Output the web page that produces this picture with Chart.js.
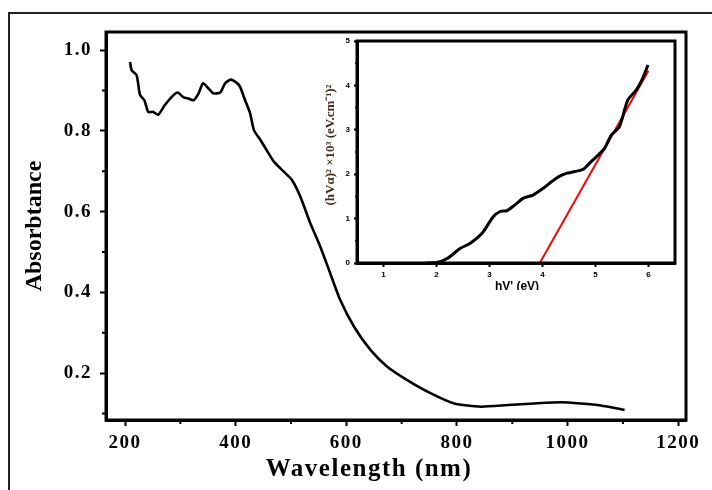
<!DOCTYPE html>
<html>
<head>
<meta charset="utf-8">
<script src="https://cdn.jsdelivr.net/npm/chart.js@4.4.1/dist/chart.umd.min.js"></script>
<style>
  body { margin: 0; background: #fff; }
  #wrap { position: relative; width: 712px; height: 490px; overflow: hidden; }
  #outer { position: absolute; left: 8px; top: 12px; width: 900px; height: 700px;
           border-top: 2px solid #222; border-left: 2px solid #222; }
  #main { position: absolute; left: 0; top: 0; }
  #inset { position: absolute; left: 300px; top: 30px; }
</style>
</head>
<body>
<div id="wrap">
  <div id="outer"></div>
  <canvas id="main" width="712" height="490"></canvas>
  <canvas id="inset" width="390" height="260"></canvas>
</div>
<script>
// main spectrum
const wavelength = [209, 212, 221, 227, 235, 242, 251, 260, 272, 285, 295, 306, 315, 324, 333, 341, 351, 360,
  372, 381, 391, 402, 408, 417, 426, 433, 445, 457, 469, 487, 502, 517, 535, 553, 571, 589, 614, 644, 674,
  710, 753, 795, 843, 892, 940, 988, 1024, 1060, 1103];
const absorbance = [0.971, 0.950, 0.938, 0.889, 0.876, 0.847, 0.847, 0.840, 0.864, 0.885, 0.895, 0.883, 0.880,
  0.876, 0.893, 0.918, 0.905, 0.893, 0.895, 0.918, 0.927, 0.919, 0.909, 0.876, 0.844, 0.802, 0.777, 0.750,
  0.724, 0.699, 0.678, 0.637, 0.571, 0.513, 0.447, 0.381, 0.315, 0.257, 0.216, 0.183, 0.150, 0.125, 0.117,
  0.121, 0.125, 0.128, 0.125, 0.120, 0.109];

// inset (Tauc plot)
const photonEnergy = [1.79, 2.0, 2.2, 2.45, 2.63, 2.86, 3.07, 3.2, 3.33, 3.48, 3.64, 3.82, 4.01, 4.17, 4.3,
  4.45, 4.61, 4.77, 4.89, 5.05, 5.17, 5.3, 5.45, 5.55, 5.61, 5.77, 5.89, 5.99];
const tauc = [0, 0.01, 0.1, 0.33, 0.44, 0.67, 1.04, 1.16, 1.18, 1.31, 1.46, 1.53, 1.68, 1.83, 1.94,
  2.02, 2.06, 2.11, 2.25, 2.43, 2.58, 2.88, 3.07, 3.45, 3.67, 3.9, 4.16, 4.46];
const fitEnergy = [3.95, 6.0];
const fitValue = [0, 4.33];

// ticks
const mainXTicks = [200, 400, 600, 800, 1000, 1200];
const mainXMinor = [300, 500, 700, 900, 1100];
const mainYTicks = [0.2, 0.4, 0.6, 0.8, 1.0];
const mainYMinor = [0.1, 0.3, 0.5, 0.7, 0.9];
const insetXTicks = [1, 2, 3, 4, 5, 6];
const insetYTicks = [0, 1, 2, 3, 4, 5];
const insetYMinor = [0.5, 1.5, 2.5, 3.5, 4.5];
const insetXMinor = [];
for (let i = 6; i <= 64; i++) if (i % 10 !== 0) insetXMinor.push(i / 10);

const toXY = (xs, ys) => xs.map((x, i) => ({ x: x, y: ys[i] }));

const framePlugin = {
  id: 'frame',
  afterDraw(chart, args, opts) {
    const { ctx, chartArea: a } = chart;
    ctx.save();
    ctx.strokeStyle = '#000';
    ctx.lineWidth = opts.width;
    ctx.strokeRect(a.left, a.top, a.right - a.left, a.bottom - a.top);
    ctx.restore();
  }
};

const minorTicks = {
  id: 'minorTicks',
  afterDraw(chart, args, opts) {
    const { ctx, chartArea: a, scales } = chart;
    ctx.save();
    ctx.strokeStyle = '#000';
    ctx.lineWidth = opts.width;
    ctx.beginPath();
    opts.x.forEach(v => {
      const p = scales.x.getPixelForValue(v);
      ctx.moveTo(p, a.bottom);
      ctx.lineTo(p, a.bottom + opts.length);
    });
    opts.y.forEach(v => {
      const p = scales.y.getPixelForValue(v);
      ctx.moveTo(a.left, p);
      ctx.lineTo(a.left - opts.length, p);
    });
    ctx.stroke();
    ctx.restore();
  }
};

const axisTitles = {
  id: 'axisTitles',
  beforeDraw(chart, args, opts) {
    if (opts.spacing) chart.ctx.letterSpacing = opts.spacing;
  },
  afterDraw(chart, args, opts) {
    const ctx = chart.ctx;
    opts.items.forEach(t => {
      ctx.save();
      ctx.font = t.font;
      ctx.fillStyle = t.color || '#000';
      ctx.letterSpacing = t.spacing || '0px';
      ctx.textAlign = 'center';
      ctx.textBaseline = 'middle';
      ctx.translate(t.x, t.y);
      if (t.rotate) ctx.rotate(-Math.PI / 2);
      ctx.fillText(t.text, 0, 0);
      ctx.restore();
    });
  }
};

function axisOpts(min, max, ticks, font, tickLen, pad, fmt, fixedSize, isX) {
  return {
    type: 'linear',
    min: min,
    max: max,
    afterBuildTicks: s => { s.ticks = ticks.map(v => ({ value: v })); },
    afterFit: s => { if (isX) s.height = fixedSize; else s.width = fixedSize; },
    ticks: { color: '#000', font: font, padding: pad, callback: fmt, autoSkip: false, maxRotation: 0 },
    grid: { drawOnChartArea: false, drawTicks: true, tickLength: tickLen, tickWidth: 2, tickColor: '#000' },
    border: { display: true, color: '#000', width: 3 }
  };
}

const serifTick = { family: 'Liberation Serif', size: 19, weight: 'bold' };

new Chart(document.getElementById('main'), {
  type: 'line',
  data: {
    datasets: [{
      data: toXY(wavelength, absorbance),
      borderColor: '#000',
      borderWidth: 2.6,
      pointRadius: 0,
      tension: 0.2,
      fill: false
    }]
  },
  options: {
    responsive: false,
    animation: false,
    layout: { padding: { left: 0, top: 32, right: 26, bottom: 0 } },
    plugins: {
      legend: { display: false },
      tooltip: { enabled: false },
      frame: { width: 3 },
      minorTicks: { x: mainXMinor, y: mainYMinor, length: 4, width: 2 },
      axisTitles: {
        spacing: '1.5px',
        items: [
          { text: 'Absorbtance', x: 35, y: 226, rotate: true, font: 'bold 24px "Liberation Serif"' },
          { text: 'Wavelength (nm)', x: 369, y: 470, font: 'bold 25px "Liberation Serif"', spacing: '1.5px' }
        ]
      }
    },
    scales: {
      x: axisOpts(165.6, 1214, mainXTicks, serifTick, 6, 6, v => v, 70, true),
      y: axisOpts(0.084, 1.045, mainYTicks, serifTick, 6, 8, v => v.toFixed(1), 106, false)
    }
  },
  plugins: [framePlugin, minorTicks, axisTitles]
});

const sansTick = { family: 'Liberation Sans', size: 8, weight: 'bold' };

new Chart(document.getElementById('inset'), {
  type: 'line',
  data: {
    datasets: [{
      data: toXY(photonEnergy, tauc),
      borderColor: '#000',
      borderWidth: 3,
      pointRadius: 0,
      tension: 0.25,
      fill: false
    }, {
      data: toXY(fitEnergy, fitValue),
      borderColor: '#ff0000',
      borderWidth: 2,
      pointRadius: 0,
      fill: false
    }]
  },
  options: {
    responsive: false,
    animation: false,
    layout: { padding: { left: 0, top: 11, right: 15, bottom: 0 } },
    plugins: {
      legend: { display: false },
      tooltip: { enabled: false },
      frame: { width: 3 },
      minorTicks: { x: insetXMinor, y: insetYMinor, length: 2, width: 1.5 },
      axisTitles: {
        items: [
          { text: '(hVα)² ×10³ (eV.cm⁻¹)²', x: 31, y: 115, rotate: true,
            font: 'bold 13px "Liberation Serif"', color: '#4a2c1a' },
          { text: "hV' (eV)", x: 217, y: 257, font: 'bold 12px "Liberation Sans"' }
        ]
      }
    },
    scales: {
      x: axisOpts(0.5, 6.5, insetXTicks, sansTick, 4, 3, v => v, 27, true),
      y: axisOpts(0, 5, insetYTicks, sansTick, 3, 4, v => v, 57, false)
    }
  },
  plugins: [framePlugin, minorTicks, axisTitles]
});
</script>
</body>
</html>
